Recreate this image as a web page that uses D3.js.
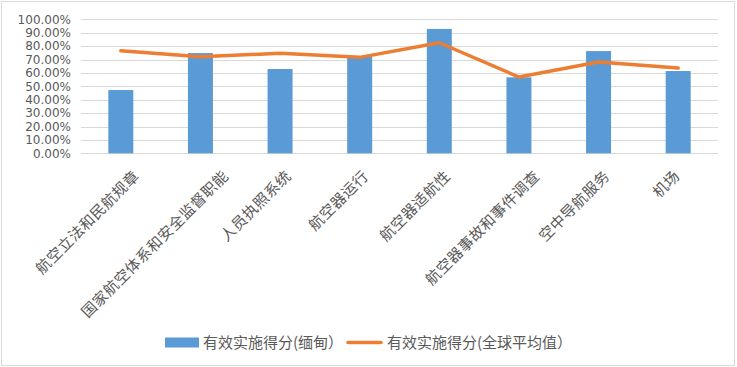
<!DOCTYPE html>
<html><head><meta charset="utf-8">
<script src="https://cdn.jsdelivr.net/npm/d3@7"></script>
<style>html,body{margin:0;padding:0;background:#fff;}svg{display:block;}</style>
</head><body>
<svg id="chart" width="737" height="367"></svg>
<script>
const categories = ["航空立法和民航规章","国家航空体系和安全监督职能","人员执照系统","航空器运行","航空器适航性","航空器事故和事件调查","空中导航服务","机场"];
const myanmar = [0.472, 0.748, 0.629, 0.721, 0.928, 0.567, 0.763, 0.614];
const globalAvg = [0.766, 0.721, 0.746, 0.716, 0.825, 0.569, 0.681, 0.636];
const yTicks = [0,0.1,0.2,0.3,0.4,0.5,0.6,0.7,0.8,0.9,1.0];
const seriesNames = ["有效实施得分(缅甸）","有效实施得分(全球平均值）"];

(function(){
const svg = d3.select("#chart");
const pL = 81, pR = 718, pT = 19.3, pB = 153.3;
const cjk = "'Noto Sans CJK SC','Noto Sans',sans-serif";

svg.append("rect").attr("x",1.5).attr("y",1.5).attr("width",733).attr("height",364)
  .attr("fill","#fff").attr("stroke","#D9D9D9").attr("stroke-width",1);

const x = d3.scaleBand().domain(categories).range([pL,pR]).padding(0);
const y = d3.scaleLinear().domain([0,1]).range([pB,pT]);

// gridlines
svg.append("g").selectAll("line").data(yTicks).join("line")
  .attr("x1",pL).attr("x2",pR)
  .attr("y1",d=>Math.round(y(d))+0.5).attr("y2",d=>Math.round(y(d))+0.5)
  .attr("stroke","#D9D9D9").attr("stroke-width",1);

// y axis labels
const yAxis = d3.axisLeft(y).tickValues(yTicks).tickFormat(d=>(d*100).toFixed(2)+"%").tickSize(0).tickPadding(0);
const gy = svg.append("g").attr("transform",`translate(${pL-10},0)`).call(yAxis);
gy.select(".domain").remove();
gy.selectAll("text").attr("fill","#595959").style("font-family","'DejaVu Sans',sans-serif").style("font-size","12px");

// bars
const bw = x.step()*0.314;
svg.append("g").selectAll("rect").data(myanmar).join("rect")
  .attr("x",(d,i)=>x(categories[i])+x.step()/2-bw/2)
  .attr("width",bw)
  .attr("y",d=>y(d)).attr("height",d=>y(0)-y(d))
  .attr("fill","#5B9BD5");

// line
const line = d3.line().x((d,i)=>x(categories[i])+x.step()/2).y(d=>y(d));
svg.append("path").datum(globalAvg).attr("d",line)
  .attr("fill","none").attr("stroke","#ED7D31").attr("stroke-width",3.5)
  .attr("stroke-linejoin","round").attr("stroke-linecap","round");

// category labels
const labY = 177;
const labs = svg.append("g").selectAll("text").data(categories).join("text")
  .text(d=>d)
  .attr("text-anchor","end")
  .attr("fill","#595959")
  .style("font-family",cjk).style("font-size","15px").style("letter-spacing","0.4px");
labs.each(function(d){
  const len = this.getComputedTextLength();
  const off = 0.156*len - 2.3;
  const cx = x(d)+x.step()/2+off;
  d3.select(this).attr("transform",`translate(${cx},${labY}) rotate(-45)`);
});

// legend
const lg = svg.append("g");
lg.append("rect").attr("x",165).attr("y",337.5).attr("width",34).attr("height",10).attr("fill","#5B9BD5");
lg.append("text").attr("x",203).attr("y",348).text(seriesNames[0])
  .attr("fill","#595959").style("font-family",cjk).style("font-size","15px");
lg.append("line").attr("x1",348).attr("x2",381).attr("y1",342.5).attr("y2",342.5)
  .attr("stroke","#ED7D31").attr("stroke-width",3.5).attr("stroke-linecap","round");
lg.append("text").attr("x",387).attr("y",348).text(seriesNames[1])
  .attr("fill","#595959").style("font-family",cjk).style("font-size","15px");
})();
</script>
</body></html>
